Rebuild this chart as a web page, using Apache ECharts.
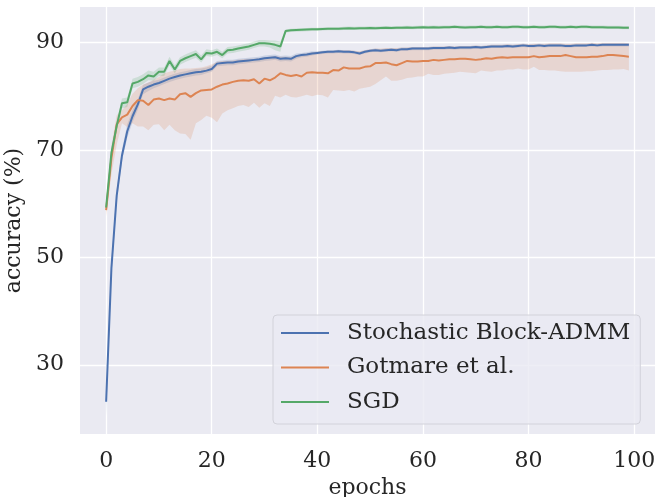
<!DOCTYPE html>
<html>
<head>
<meta charset="utf-8">
<script src="https://cdn.jsdelivr.net/npm/echarts@6/dist/echarts.min.js"></script>
<style>
html,body{margin:0;padding:0;background:#ffffff;}
#chart{width:658px;height:497px;}
</style>
</head>
<body>
<div id="chart"></div>
<script>
// ---- data ----
const epochs = Array.from({length: 100}, (_, i) => i);
const seriesNames = ['Stochastic Block-ADMM', 'Gotmare et al.', 'SGD'];
const xTicks = [0, 20, 40, 60, 80, 100];
const yTicks = [30, 50, 70, 90];

const blueMean = [23.1, 48.0, 61.5, 69.0, 73.5, 76.3, 78.5, 81.3, 81.8, 82.2,
 82.5, 82.9, 83.3, 83.6, 83.9, 84.1, 84.3, 84.5, 84.6, 84.8,
 85.1, 86.1, 86.2, 86.3, 86.3, 86.5, 86.6, 86.7, 86.8, 86.9,
 87.1, 87.2, 87.3, 87.0, 87.1, 87.0, 87.5, 87.7, 87.8, 88.0,
 88.1, 88.2, 88.3, 88.3, 88.4, 88.3, 88.3, 88.2, 88.0, 88.3,
 88.5, 88.6, 88.5, 88.6, 88.7, 88.6, 88.8, 88.8, 88.9, 88.9,
 88.9, 88.9, 89.0, 89.0, 89.0, 89.1, 89.0, 89.1, 89.1, 89.1,
 89.2, 89.1, 89.2, 89.3, 89.3, 89.3, 89.4, 89.3, 89.4, 89.5,
 89.4, 89.4, 89.5, 89.4, 89.5, 89.5, 89.5, 89.4, 89.4, 89.5,
 89.5, 89.5, 89.6, 89.5, 89.6, 89.6, 89.6, 89.6, 89.6, 89.6];
const blueLo = [20.4, 46.6, 60.2, 67.9, 72.3, 75.2, 77.5, 80.4, 81.0, 81.5,
 81.9, 82.3, 82.7, 83.0, 83.3, 83.5, 83.7, 83.9, 84.0, 84.3,
 84.6, 85.6, 85.7, 85.8, 85.8, 86.0, 86.1, 86.2, 86.3, 86.4,
 86.6, 86.7, 86.8, 86.5, 86.6, 86.5, 87.0, 87.3, 87.4, 87.6,
 87.8, 87.9, 88.0, 88.0, 88.1, 88.0, 88.0, 87.9, 87.7, 88.0,
 88.2, 88.3, 88.2, 88.3, 88.4, 88.3, 88.5, 88.5, 88.6, 88.6,
 88.6, 88.6, 88.7, 88.7, 88.7, 88.8, 88.7, 88.8, 88.8, 88.8,
 88.9, 88.8, 88.9, 89.0, 89.0, 89.0, 89.1, 89.0, 89.1, 89.2,
 89.1, 89.1, 89.2, 89.1, 89.2, 89.2, 89.2, 89.1, 89.1, 89.2,
 89.2, 89.2, 89.3, 89.2, 89.3, 89.3, 89.3, 89.3, 89.3, 89.3];
const blueHi = [23.6, 49.4, 62.8, 70.1, 74.8, 77.4, 79.5, 82.1, 82.6, 82.9,
 83.1, 83.5, 83.9, 84.2, 84.5, 84.7, 84.9, 85.1, 85.2, 85.4,
 85.7, 86.6, 86.7, 86.8, 86.8, 87.0, 87.1, 87.2, 87.3, 87.4,
 87.6, 87.7, 87.8, 87.5, 87.6, 87.5, 88.0, 88.1, 88.2, 88.4,
 88.4, 88.5, 88.6, 88.6, 88.7, 88.6, 88.6, 88.5, 88.3, 88.6,
 88.8, 88.9, 88.8, 88.9, 89.0, 88.9, 89.1, 89.1, 89.2, 89.2,
 89.2, 89.2, 89.3, 89.3, 89.3, 89.4, 89.3, 89.4, 89.4, 89.4,
 89.5, 89.4, 89.5, 89.6, 89.6, 89.6, 89.7, 89.6, 89.7, 89.8,
 89.7, 89.7, 89.8, 89.7, 89.8, 89.8, 89.8, 89.7, 89.7, 89.8,
 89.8, 89.8, 89.9, 89.8, 89.9, 89.9, 89.9, 89.9, 89.9, 89.9];

const orangeMean = [58.8, 68.5, 74.8, 76.1, 76.6, 78.2, 79.3, 79.2, 78.4, 79.4,
 79.6, 79.3, 79.6, 79.4, 80.4, 80.6, 79.9, 80.6, 81.1, 81.2,
 81.3, 81.8, 82.2, 82.4, 82.7, 82.9, 83.0, 82.9, 83.2, 82.4,
 83.3, 83.0, 83.5, 84.3, 84.0, 83.8, 84.0, 83.7, 84.4, 84.5,
 84.4, 84.4, 84.3, 84.9, 84.8, 85.4, 85.2, 85.2, 85.2, 85.5,
 85.6, 86.2, 86.2, 86.3, 86.0, 85.8, 86.2, 86.6, 86.5, 86.5,
 86.6, 86.6, 86.8, 86.7, 86.8, 86.9, 86.9, 87.0, 87.0, 86.9,
 86.8, 86.9, 87.1, 87.0, 87.2, 87.3, 87.2, 87.3, 87.3, 87.3,
 87.3, 87.5, 87.3, 87.4, 87.5, 87.5, 87.5, 87.7, 87.5, 87.3,
 87.3, 87.3, 87.4, 87.4, 87.5, 87.7, 87.7, 87.6, 87.5, 87.4];
const orangeLo = [57.6, 65.5, 71.0, 75.0, 74.3, 75.0, 74.4, 74.4, 73.7, 74.7,
 74.8, 73.7, 74.7, 73.7, 73.1, 73.0, 71.9, 75.0, 75.6, 76.4,
 76.0, 75.2, 76.8, 77.4, 77.8, 78.2, 78.4, 78.0, 78.8, 77.9,
 78.7, 78.2, 80.1, 79.8, 80.3, 79.9, 79.8, 80.0, 80.3, 80.0,
 80.3, 80.2, 79.8, 81.2, 81.1, 81.0, 81.2, 80.9, 81.4, 81.6,
 81.8, 82.3, 83.0, 83.7, 82.9, 82.9, 83.1, 83.4, 83.5, 83.7,
 83.7, 84.2, 84.0, 84.0, 84.2, 84.3, 84.4, 84.6, 84.5, 84.4,
 84.3, 84.8, 84.7, 84.6, 84.8, 84.8, 85.0, 85.0, 85.2, 85.0,
 85.0, 85.5, 84.9, 84.9, 84.8, 84.8, 84.7, 84.6, 84.6, 84.6,
 84.6, 84.7, 84.7, 84.8, 84.9, 84.9, 85.0, 85.0, 85.1, 84.8];
const orangeHi = [59.5, 70.8, 76.5, 77.4, 78.6, 80.5, 81.5, 82.2, 82.6, 83.1,
 83.6, 84.3, 84.6, 84.8, 85.1, 85.2, 85.2, 85.3, 85.4, 85.6,
 86.0, 86.4, 86.6, 86.6, 86.7, 86.8, 86.9, 87.0, 87.0, 87.1,
 87.3, 87.4, 87.5, 87.4, 87.4, 87.3, 87.7, 87.9, 88.0, 88.2,
 88.3, 88.4, 88.5, 88.5, 88.6, 88.6, 88.6, 88.5, 88.4, 88.6,
 88.8, 88.9, 88.9, 89.0, 89.0, 89.0, 89.1, 89.1, 89.2, 89.2,
 89.2, 89.2, 89.3, 89.3, 89.3, 89.4, 89.3, 89.4, 89.4, 89.4,
 89.5, 89.4, 89.5, 89.6, 89.6, 89.6, 89.7, 89.6, 89.7, 89.8,
 89.7, 89.8, 89.8, 89.8, 89.9, 89.9, 89.9, 89.8, 89.8, 89.9,
 89.9, 89.9, 90.0, 89.9, 90.0, 90.0, 90.0, 90.0, 90.0, 89.9];

const greenMean = [59.3, 69.5, 74.5, 78.7, 78.9, 82.4, 82.7, 83.2, 83.9, 83.7,
 84.6, 84.6, 86.6, 85.0, 86.6, 87.1, 87.5, 87.9, 86.9, 88.1,
 88.0, 88.3, 87.7, 88.6, 88.7, 88.9, 89.1, 89.3, 89.6, 89.9,
 89.9, 89.8, 89.6, 89.3, 92.2, 92.3, 92.35, 92.4, 92.45, 92.5,
 92.5, 92.55, 92.6, 92.6, 92.6, 92.65, 92.7, 92.65, 92.7, 92.7,
 92.75, 92.7, 92.75, 92.8, 92.75, 92.8, 92.8, 92.85, 92.8, 92.85,
 92.9, 92.85, 92.9, 92.85, 92.9, 92.9, 92.95, 92.9, 92.85, 92.9,
 92.9, 92.95, 92.9, 92.9, 92.95, 92.9, 92.9, 92.95, 92.95, 92.9,
 92.9, 92.95, 92.9, 92.9, 92.95, 92.95, 92.9, 92.9, 92.95, 92.9,
 92.95, 92.95, 92.9, 92.9, 92.9, 92.85, 92.85, 92.85, 92.8, 92.8];
const greenLo = [58.6, 68.8, 73.6, 77.8, 78.0, 81.5, 81.8, 82.3, 83.0, 82.9,
 83.8, 83.8, 85.8, 84.3, 85.9, 86.4, 86.8, 87.2, 86.3, 87.5,
 87.4, 87.7, 87.1, 88.0, 88.1, 88.3, 88.5, 88.7, 89.0, 89.3,
 89.3, 89.1, 88.6, 88.3, 91.9, 92.0, 92.05, 92.1, 92.15, 92.2,
 92.2, 92.25, 92.3, 92.3, 92.3, 92.35, 92.4, 92.35, 92.4, 92.4,
 92.45, 92.4, 92.45, 92.5, 92.45, 92.5, 92.5, 92.55, 92.5, 92.55,
 92.6, 92.55, 92.6, 92.55, 92.6, 92.6, 92.65, 92.6, 92.55, 92.6,
 92.6, 92.65, 92.6, 92.6, 92.65, 92.6, 92.6, 92.65, 92.65, 92.6,
 92.6, 92.65, 92.6, 92.6, 92.65, 92.65, 92.6, 92.6, 92.65, 92.6,
 92.65, 92.65, 92.6, 92.6, 92.6, 92.55, 92.55, 92.55, 92.5, 92.5];
const greenHi = [60.0, 70.3, 75.4, 79.6, 79.8, 83.3, 83.6, 84.1, 84.8, 84.6,
 85.4, 85.4, 87.4, 85.8, 87.3, 87.8, 88.2, 88.6, 87.6, 88.8,
 88.6, 88.9, 88.3, 89.2, 89.3, 89.5, 89.7, 89.9, 90.2, 90.5,
 90.5, 90.4, 90.4, 90.2, 92.5, 92.6, 92.65, 92.7, 92.75, 92.8,
 92.8, 92.85, 92.9, 92.9, 92.9, 92.95, 93.0, 92.95, 93.0, 93.0,
 93.05, 93.0, 93.05, 93.1, 93.05, 93.1, 93.1, 93.15, 93.1, 93.15,
 93.2, 93.15, 93.2, 93.15, 93.2, 93.2, 93.25, 93.2, 93.15, 93.2,
 93.2, 93.25, 93.2, 93.2, 93.25, 93.2, 93.2, 93.25, 93.25, 93.2,
 93.2, 93.25, 93.2, 93.2, 93.25, 93.25, 93.2, 93.2, 93.25, 93.2,
 93.25, 93.25, 93.2, 93.2, 93.2, 93.15, 93.15, 93.15, 93.1, 93.1];

// ---- styling ----
const colors = ['#4C72B0', '#DD8452', '#55A868'];
const FONT = 'DejaVu Serif';
const TXT = '#262626';

const groups = [
  {mean: blueMean, lo: blueLo, hi: blueHi},
  {mean: orangeMean, lo: orangeLo, hi: orangeHi},
  {mean: greenMean, lo: greenLo, hi: greenHi}
];

const pairs = arr => epochs.map((e, i) => [e, arr[i]]);

const series = [];
// confidence bands: one polygon per method, drawn through the axis scales
groups.forEach((g, k) => {
  series.push({
    name: '_band' + k, type: 'custom', silent: true, z: 1,
    data: epochs.map((e, i) => [e, g.lo[i], g.hi[i]]),
    encode: {x: 0, y: [1, 2]},
    renderItem: function (params, api) {
      if (params.dataIndex !== 0) return null;
      const pts = [];
      for (let i = 0; i < epochs.length; i++) pts.push(api.coord([epochs[i], g.hi[i]]));
      for (let i = epochs.length - 1; i >= 0; i--) pts.push(api.coord([epochs[i], g.lo[i]]));
      return {
        type: 'polygon', shape: {points: pts},
        style: {fill: colors[k], opacity: 0.2, stroke: 'none'}
      };
    }
  });
});
groups.forEach((g, k) => {
  series.push({
    name: seriesNames[k], type: 'line', data: pairs(g.mean),
    symbol: 'none', color: colors[k],
    lineStyle: {color: colors[k], width: 2}, z: 3
  });
});

const chart = echarts.init(document.getElementById('chart'), null, {renderer: 'canvas'});
chart.setOption({
  animation: false,
  backgroundColor: '#ffffff',
  grid: {left: 80, right: 3, top: 7, bottom: 63, show: true, backgroundColor: '#EAEAF2', borderWidth: 0,
         containLabel: false, outerBoundsMode: 'none'},
  xAxis: {
    type: 'value', min: -4.95, max: 103.95,
    name: 'epochs', nameLocation: 'middle', nameGap: 43,
    nameTextStyle: {fontFamily: FONT, fontSize: 22, color: TXT},
    axisLine: {show: false}, axisTick: {show: false, customValues: xTicks},
    axisLabel: {customValues: xTicks, fontFamily: FONT, fontSize: 22, color: TXT, margin: 16},
    splitLine: {show: true, lineStyle: {color: '#ffffff', width: 1.3}}
  },
  yAxis: {
    type: 'value', min: 17.1, max: 96.65,
    name: 'accuracy (%)', nameLocation: 'middle', nameGap: 47, nameRotate: 90,
    nameTextStyle: {fontFamily: FONT, fontSize: 22, color: TXT},
    axisLine: {show: false}, axisTick: {show: false, customValues: yTicks},
    axisLabel: {customValues: yTicks, fontFamily: FONT, fontSize: 22, color: TXT, margin: 16},
    splitLine: {show: true, lineStyle: {color: '#ffffff', width: 1.3}}
  },
  legend: {
    data: seriesNames.map(n => ({name: n, icon: 'rect'})),
    orient: 'vertical', left: 273, top: 315,
    itemWidth: 48, itemHeight: 2, itemGap: 10.5,
    padding: [6, 10, 10, 8],
    backgroundColor: 'rgba(234,234,242,0.8)', borderColor: '#d2d2da', borderWidth: 1, borderRadius: 4,
    textStyle: {fontFamily: FONT, fontSize: 23, color: TXT, lineHeight: 24, padding: [0, 0, 0, 13]}
  },
  series: series
});
</script>
</body>
</html>
